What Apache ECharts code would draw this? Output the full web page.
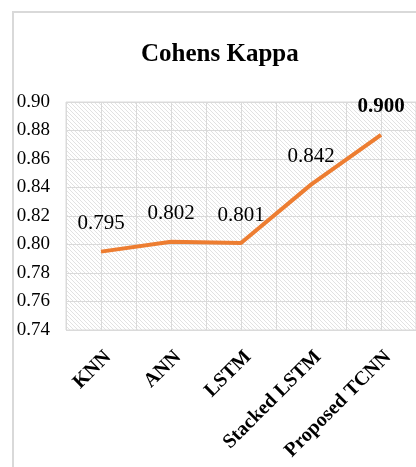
<!DOCTYPE html>
<html>
<head>
<meta charset="utf-8">
<script src="https://cdn.jsdelivr.net/npm/echarts@6/dist/echarts.min.js"></script>
<style>
  html, body { margin: 0; padding: 0; background: #fff; }
  #chartDiv { width: 416px; height: 467px; }
</style>
</head>
<body>
<div id="chartDiv"></div>
<script>
var models = ['KNN', 'ANN', 'LSTM', 'Stacked LSTM', 'Proposed TCNN'];
var kappa = [0.795, 0.802, 0.801, 0.842, 0.877];
var kappaLabels = ['0.795', '0.802', '0.801', '0.842', '0.900'];
var boldLabelIndex = 4;

// diagonal hatch for the plot background
function hatch() {
    var c = document.createElement('canvas');
    c.width = 4; c.height = 4;
    var ctx = c.getContext('2d');
    ctx.strokeStyle = '#e2e2e2';
    ctx.lineWidth = 1;
    ctx.beginPath();
    ctx.moveTo(-1, -1); ctx.lineTo(5, 5);
    ctx.moveTo(-1, 3); ctx.lineTo(1, 5);
    ctx.moveTo(3, -1); ctx.lineTo(5, 1);
    ctx.stroke();
    return c;
}

var kappaChart = echarts.init(document.getElementById('chartDiv'));

var seriesData = kappa.map(function (v, i) {
    var item = { value: v };
    if (i === boldLabelIndex) item.label = { fontWeight: 'bold' };
    return item;
});

var kappaOption = {
    backgroundColor: '#fff',
    animation: false,
    title: {
        text: 'Cohens Kappa',
        left: 136,
        top: 37,
        textStyle: {
            fontFamily: 'Liberation Serif',
            fontWeight: 'bold',
            fontSize: 25,
            color: '#000'
        }
    },
    graphic: [{
        type: 'rect',
        shape: { x: 13, y: 12, width: 600, height: 600 },
        style: { fill: null, stroke: '#d9d9d9', lineWidth: 2 },
        silent: true
    }],
    grid: {
        left: 66,
        top: 102,
        width: 360,
        height: 228,
        show: true,
        backgroundColor: { image: hatch(), repeat: 'repeat' },
        borderColor: '#dadada',
        borderWidth: 1
    },
    xAxis: [{
        type: 'category',
        data: models,
        boundaryGap: true,
        axisLine: { show: false },
        axisTick: { show: false },
        splitLine: { show: false },
        axisLabel: {
            rotate: 45,
            margin: 17,
            interval: 0,
            verticalAlign: 'top',
            fontFamily: 'Liberation Serif',
            fontWeight: 'bold',
            fontSize: 20,
            color: '#000'
        }
    }, {
        // minor vertical gridlines
        type: 'value',
        min: 0,
        max: 10,
        interval: 1,
        show: true,
        axisLine: { show: false },
        axisTick: { show: false },
        axisLabel: { show: false },
        splitLine: { show: true, lineStyle: { color: '#dadada', width: 1 } }
    }],
    yAxis: {
        type: 'value',
        min: 0.74,
        max: 0.90,
        interval: 0.02,
        axisLine: { show: false },
        axisTick: { show: false },
        splitLine: { lineStyle: { color: '#dadada', width: 1 } },
        axisLabel: {
            margin: 16,
            fontFamily: 'Liberation Serif',
            fontSize: 19,
            color: '#000',
            formatter: function (v) { return v.toFixed(2); }
        }
    },
    series: [{
        name: 'Cohens Kappa',
        type: 'line',
        xAxisIndex: 0,
        data: seriesData,
        symbol: 'circle',
        symbolSize: 1,
        showSymbol: true,
        itemStyle: { color: 'rgba(237,125,49,0)' },
        lineStyle: { color: '#ED7D31', width: 4 },
        label: {
            show: true,
            position: 'top',
            distance: 17,
            fontFamily: 'Liberation Serif',
            fontSize: 21,
            color: '#000',
            formatter: function (p) { return kappaLabels[p.dataIndex]; }
        },
        labelLayout: { hideOverlap: false }
    }]
};

kappaChart.setOption(kappaOption);
</script>
</body>
</html>
